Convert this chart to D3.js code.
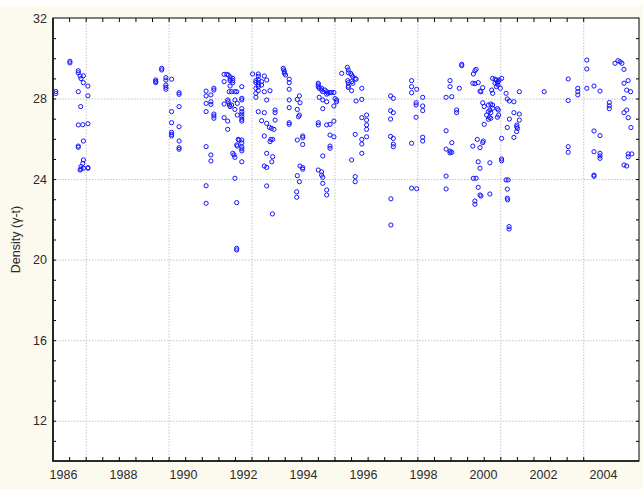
<!DOCTYPE html>
<html>
<head>
<meta charset="utf-8">
<script src="https://cdn.jsdelivr.net/npm/d3@7"></script>
<style>
    body { margin: 0; background: #fcf9ee; }
    svg { display: block; }
    .lbl text { font-family: "Liberation Sans", Arial, sans-serif; font-size: 12.5px; fill: #2a2a2a; }
    .grid line { stroke: #c4c4c4; stroke-dasharray: 1.5,1.5; }
    .minor line { stroke: #000; }
    .domain { display: none; }
</style>
</head>
<body>
<div id="chart"></div>
<script>
// sampling campaigns, [year, density]
var s1986 = [[1985.76,28.35],[1985.76,28.25],[1986.23,29.85],[1986.23,29.77],
    [1986.51,29.38],[1986.51,29.28],[1986.57,29.12],[1986.68,29.13],[1986.60,28.99],[1986.68,28.79],
    [1986.51,28.34],[1986.83,28.62],[1986.83,28.14],[1986.59,27.60],[1986.51,26.69],[1986.66,26.70],
    [1986.83,26.75],[1986.68,25.89],[1986.51,25.64],[1986.51,25.58],[1986.68,24.95],[1986.66,24.78],
    [1986.60,24.62],[1986.60,24.50],[1986.68,24.54],[1986.83,24.57],[1986.83,24.54],[1986.57,24.45]];

var s1989 = [[1989.09,28.92],[1989.09,28.85],[1989.09,28.79],[1989.29,29.50],[1989.29,29.42],
    [1989.43,29.04],[1989.43,28.92],[1989.43,28.67],[1989.43,28.56],[1989.43,28.46],[1989.62,28.96],
    [1989.87,28.29],[1989.87,28.21],[1989.87,27.60],[1989.62,27.35],[1989.62,26.80],[1989.62,26.32],
    [1989.62,26.22],[1989.62,26.14],[1989.87,26.60],[1989.87,25.89],[1989.87,25.56],[1989.87,25.48]];

var s1990 = [[1990.77,28.37],[1990.77,28.13],[1990.77,27.76],[1990.77,27.35],[1990.77,25.61],
    [1990.77,23.67],[1990.77,22.80],[1990.93,28.18],[1990.93,27.84],[1990.93,27.71],[1990.93,25.20],
    [1990.93,24.90],[1991.03,28.51],[1991.03,28.42],[1991.03,27.23],[1991.03,27.13],[1991.03,27.02]];

var s1991 = [[1991.37,29.20],[1991.37,28.84],[1991.37,27.73],[1991.37,27.05],[1991.46,29.20],
    [1991.51,29.17],[1991.49,27.93],[1991.51,27.84],[1991.49,26.88],[1991.49,26.47],[1991.57,29.08],
    [1991.57,28.97],[1991.57,28.89],[1991.54,28.34],[1991.62,28.34],[1991.57,28.62],[1991.66,29.00],
    [1991.66,28.89],[1991.66,28.79],[1991.55,27.68],[1991.57,27.60],[1991.62,27.68],[1991.73,28.34],
    [1991.79,28.34],[1991.73,27.93],[1991.73,27.46],[1991.81,27.76],[1991.66,25.28],[1991.70,25.20],
    [1991.73,25.08],[1991.81,27.18],[1991.81,25.64],[1991.84,25.97],[1991.73,24.04],[1991.96,28.59],
    [1991.96,28.01],[1991.96,27.93],[1991.96,27.50],[1991.96,27.35],[1991.96,27.23],[1991.96,27.10],
    [1991.96,26.97],[1991.96,26.88],[1991.87,25.94],[1991.96,25.94],[1991.96,25.80],[1991.96,25.60],
    [1991.96,25.50],[1991.96,25.40],[1991.79,25.70],[1991.96,24.86],[1991.79,22.83],[1991.79,20.56],
    [1991.79,20.48]];

var s1992 = [[1992.32,29.22],[1992.51,29.22],[1992.51,29.10],[1992.51,28.94],[1992.51,28.79],
    [1992.51,28.68],[1992.51,28.59],[1992.51,28.39],[1992.43,28.89],[1992.43,28.79],[1992.43,28.51],
    [1992.43,28.26],[1992.43,28.06],[1992.62,28.84],[1992.62,28.67],[1992.71,29.12],[1992.79,28.92],
    [1992.71,28.34],[1992.90,28.39],[1992.79,27.93],[1992.51,27.35],[1992.71,27.30],[1992.62,26.90],
    [1992.79,26.77],[1992.88,26.57],[1992.95,26.52],[1993.03,26.47],[1993.07,27.43],[1993.07,27.30],
    [1993.07,26.93],[1992.71,26.14],[1992.93,25.97],[1992.99,25.97],[1992.90,25.86],[1992.79,25.28],
    [1992.99,25.11],[1992.71,24.65],[1992.79,24.58],[1992.79,23.66],[1992.96,24.86],[1992.98,22.27]];

var s1993 = [[1993.34,29.50],[1993.36,29.42],[1993.38,29.33],[1993.38,29.25],[1993.42,29.17],
    [1993.54,28.96],[1993.54,28.79],[1993.54,28.46],[1993.54,27.93],[1993.54,27.55],[1993.54,26.80],
    [1993.54,26.72],[1993.88,28.13],[1993.81,27.96],[1993.90,27.79],[1993.81,27.46],[1993.88,27.18],
    [1993.85,27.10],[1993.81,25.94],[1993.99,26.14],[1993.99,26.06],[1993.99,25.72],[1993.90,24.65],
    [1993.99,24.57],[1993.99,24.49],[1993.81,24.17],[1993.88,23.87],[1993.79,23.37],[1993.79,23.10]];

var s1994 = [[1994.51,28.76],[1994.51,28.68],[1994.51,28.59],[1994.54,28.51],[1994.62,28.51],
    [1994.62,28.42],[1994.66,28.34],[1994.73,28.42],[1994.79,28.34],[1994.84,28.26],[1994.90,28.30],
    [1994.95,28.30],[1995.03,28.30],[1994.54,28.06],[1994.66,27.93],[1994.79,28.22],[1994.79,27.84],
    [1995.07,28.00],[1995.12,27.93],[1995.12,27.84],[1994.66,27.50],[1995.03,27.63],[1994.51,26.80],
    [1994.51,26.69],[1994.79,26.69],[1994.90,26.72],[1995.03,26.88],[1994.90,26.19],[1995.03,26.10],
    [1994.90,25.64],[1994.90,25.53],[1994.66,25.15],[1994.51,24.45],[1994.62,24.36],[1994.62,24.20],
    [1994.66,24.09],[1994.66,23.79],[1994.79,23.46],[1994.79,23.21]];

var s1995 = [[1995.29,29.25],[1995.48,29.55],[1995.51,29.42],[1995.51,29.28],[1995.59,29.25],
    [1995.62,29.17],[1995.66,29.08],[1995.74,29.00],[1995.77,28.96],[1995.49,28.89],[1995.51,28.79],
    [1995.51,28.62],[1995.62,28.84],[1995.66,28.76],[1995.51,28.55],[1995.62,28.39],[1995.77,27.88],
    [1995.96,28.51],[1995.96,27.96],[1995.74,26.22],[1995.62,24.95],[1995.96,27.05],[1995.96,25.97],
    [1995.96,25.74],[1996.12,27.18],[1996.12,26.93],[1996.12,26.69],[1996.12,26.47],[1996.12,26.10],
    [1995.96,25.28],[1995.74,24.12],[1995.74,23.87]];

var s1997 = [[1996.92,28.13],[1997.01,28.01],[1996.92,27.40],[1997.01,27.30],[1996.92,26.98],
    [1996.92,26.12],[1997.01,26.02],[1997.01,25.74],[1997.01,25.61],[1996.93,23.02],[1996.93,21.72],
    [1997.62,28.89],[1997.62,28.59],[1997.62,28.29],[1997.79,28.46],[1997.77,27.79],[1997.77,27.68],
    [1997.99,28.06],[1997.99,27.63],[1997.99,27.40],[1997.77,27.07],[1997.62,25.78],[1997.99,26.08],
    [1997.99,25.89],[1997.62,23.55],[1997.79,23.52]];

var s1998 = [[1998.77,28.06],[1998.77,26.40],[1998.77,25.49],[1998.77,24.15],[1998.77,23.51],
    [1998.90,28.89],[1998.90,28.59],[1998.96,28.09],[1998.96,25.81],[1998.90,25.39],[1998.90,25.30],
    [1998.96,25.33],[1999.12,27.43],[1999.12,27.30],[1999.21,28.51],[1999.29,29.70],[1999.29,29.63]];

var s2000 = [[1999.68,29.22],[1999.73,29.38],[1999.77,29.45],[1999.66,28.76],[1999.73,28.74],
    [1999.84,28.79],[1999.99,28.54],[1999.90,28.37],[1999.93,28.34],[2000.32,29.00],[2000.40,28.96],
    [2000.45,28.92],[2000.48,28.76],[2000.54,28.92],[2000.62,29.00],[2000.29,28.42],[2000.40,28.76],
    [2000.45,28.59],[2000.50,28.67],[2000.58,28.51],[2000.50,28.84],[2000.32,28.26],[2000.77,28.26],
    [2000.81,27.98],[2000.88,27.88],[2001.03,27.84],[2001.21,28.34],[1999.99,27.79],[2000.04,27.60],
    [2000.18,27.68],[2000.26,27.73],[2000.32,27.68],[2000.32,27.52],[2000.23,27.43],[2000.18,27.35],
    [2000.26,27.30],[2000.12,27.18],[2000.21,27.07],[2000.18,26.97],[2000.26,27.02],[2000.04,26.72],
    [2000.48,27.50],[2000.51,27.43],[2000.48,27.07],[2000.52,27.18],[2000.62,26.02],[2000.81,26.56],
    [2000.88,26.98],[2001.03,27.30],[2001.21,27.23],[2001.21,26.93],[2001.13,26.69],[2001.12,26.60],
    [2001.15,26.52],[2001.12,26.36],[2001.03,26.07],[1999.81,25.97],[2000.01,25.89],[1999.99,25.81],
    [1999.66,25.64],[1999.90,25.56],[1999.84,24.86],[1999.90,24.54],[2000.23,24.81],[1999.68,24.04],
    [1999.77,24.04],[1999.84,23.59],[1999.90,23.21],[1999.93,23.16],[2000.23,23.26],[2000.62,25.00],
    [2000.62,24.91],[2000.77,23.96],[2000.84,23.96],[2000.81,23.50],[2000.81,23.05],[2000.82,22.97],
    [1999.73,22.91],[1999.73,22.75],[2000.87,21.64],[2000.87,21.52]];

var s2003 = [[2002.04,28.34],[2002.84,28.97],[2002.84,27.90],[2002.84,25.61],[2002.84,25.33],
    [2003.16,28.51],[2003.16,28.34],[2003.16,28.18],[2003.46,29.91],[2003.46,29.47],[2003.46,28.51],
    [2003.70,28.62],[2003.90,28.37],[2004.21,27.80],[2004.21,27.64],[2004.21,27.50],[2003.70,26.39],
    [2003.90,26.16],[2003.70,25.36],[2003.90,25.28],[2003.90,25.15],[2003.90,25.03],[2003.70,24.20],
    [2003.70,24.14],[2004.40,29.75],[2004.50,29.88],[2004.57,29.83],[2004.63,29.75],[2004.70,29.45],
    [2004.70,28.76],[2004.84,28.89],[2004.79,28.42],[2004.92,28.34],[2004.70,28.01],[2004.70,27.30],
    [2004.79,27.43],[2004.84,27.05],[2004.93,26.56],[2004.84,25.25],[2004.84,25.11],[2004.96,25.25],
    [2004.70,24.70],[2004.79,24.65]];

var X_LABELS = [1986, 1988, 1990, 1992, 1994, 1996, 1998, 2000, 2002, 2004];
var Y_LABELS = [12, 16, 20, 24, 28, 32];
var X_DOMAIN = [1985.667, 2005.2],
    Y_DOMAIN = [10, 32];
var X_GRID_START = 1986.757, X_GRID_STEP = 2.764;   // x grid is not on the year labels
var Y_TITLE = "Density (\u03b3-t)";

var WIDTH = 643, HEIGHT = 489,
    LEFT = 53, TOP = 18, RIGHT = 639, BOTTOM = 461;

function draw(){
    /*
        plot frame, grid, inward minor ticks, then points
     */
    var points = [].concat(s1986, s1989, s1990, s1991, s1992, s1993, s1994, s1995, s1997, s1998, s2000, s2003);

    var x = d3.scaleLinear().domain( X_DOMAIN).range( [LEFT, RIGHT]);
    var y = d3.scaleLinear().domain( Y_DOMAIN).range( [BOTTOM, TOP]);

    var xGrid = d3.range( -2, 7).map( function(k){ return X_GRID_START + k * X_GRID_STEP; });
    var xMinor = d3.range( -2, 31).map( function(k){ return X_GRID_START + k * X_GRID_STEP / 5; })
        .filter( function(v){ return v > X_DOMAIN[0] + 0.05 && v < X_DOMAIN[1] - 0.05; });
    var yMinor = d3.range( 11, 32);

    var svg = d3.select( "#chart").append( "svg")
        .attr( "width", WIDTH)
        .attr( "height", HEIGHT);

    svg.append( "rect").attr( "width", WIDTH).attr( "height", HEIGHT).attr( "fill", "#fcf9ee");
    svg.append( "rect").attr( "width", WIDTH).attr( "height", 6).attr( "fill", "#ffffff");
    svg.append( "rect")
        .attr( "x", LEFT).attr( "y", TOP)
        .attr( "width", RIGHT - LEFT).attr( "height", BOTTOM - TOP)
        .attr( "fill", "#ffffff");

    // grid
    svg.append( "g").attr( "class", "grid")
        .attr( "transform", "translate(0," + BOTTOM + ")")
        .call( d3.axisBottom( x).tickValues( xGrid.filter( function(v){ return v > X_DOMAIN[0] && v < X_DOMAIN[1]; }))
            .tickSize( -(BOTTOM - TOP)).tickFormat( ""));
    svg.append( "g").attr( "class", "grid")
        .attr( "transform", "translate(" + LEFT + ",0)")
        .call( d3.axisLeft( y).tickValues( Y_LABELS.slice( 0, -1)).tickSize( -(RIGHT - LEFT)).tickFormat( ""));

    // minor ticks on all four sides, pointing in
    svg.append( "g").attr( "class", "minor")
        .attr( "transform", "translate(0," + BOTTOM + ")")
        .call( d3.axisBottom( x).tickValues( xMinor).tickSize( -4).tickFormat( ""));
    svg.append( "g").attr( "class", "minor")
        .attr( "transform", "translate(0," + TOP + ")")
        .call( d3.axisTop( x).tickValues( xMinor).tickSize( -4).tickFormat( ""));
    svg.append( "g").attr( "class", "minor")
        .attr( "transform", "translate(" + LEFT + ",0)")
        .call( d3.axisLeft( y).tickValues( yMinor).tickSize( -3).tickFormat( ""));
    svg.append( "g").attr( "class", "minor")
        .attr( "transform", "translate(" + RIGHT + ",0)")
        .call( d3.axisRight( y).tickValues( yMinor).tickSize( -3).tickFormat( ""));

    // labels
    svg.append( "g").attr( "class", "lbl")
        .attr( "transform", "translate(0," + BOTTOM + ")")
        .call( d3.axisBottom( x).tickValues( X_LABELS).tickSize( 0).tickPadding( 9).tickFormat( d3.format( "d")))
        .selectAll( "line").remove();
    svg.append( "g").attr( "class", "lbl")
        .attr( "transform", "translate(" + LEFT + ",0)")
        .call( d3.axisLeft( y).tickValues( Y_LABELS).tickSize( 0).tickPadding( 6))
        .selectAll( "line").remove();

    svg.append( "text")
        .attr( "transform", "translate(20," + ((TOP + BOTTOM) / 2) + ")rotate(-90)")
        .attr( "text-anchor", "middle")
        .style( "font-family", "Liberation Sans, Arial, sans-serif")
        .style( "font-size", "12.5px")
        .style( "fill", "#2a2a2a")
        .text( Y_TITLE);

    // frame
    svg.append( "rect")
        .attr( "x", LEFT).attr( "y", TOP)
        .attr( "width", RIGHT - LEFT).attr( "height", BOTTOM - TOP)
        .attr( "fill", "none").attr( "stroke", "#000").attr( "stroke-width", 1);
    svg.append( "path")
        .attr( "d", "M" + LEFT + "," + TOP + "V" + BOTTOM + "H" + RIGHT)
        .attr( "fill", "none").attr( "stroke", "#111").attr( "stroke-width", 1.6);

    svg.append( "g").selectAll( "circle")
        .data( points).enter()
        .append( "circle")
        .attr( "cx", function(d){ return x( d[0]); })
        .attr( "cy", function(d){ return y( d[1]); })
        .attr( "r", 2.1)
        .attr( "fill", "none")
        .attr( "stroke", "#1414ff")
        .attr( "stroke-width", 1);
}

draw();
</script>
</body>
</html>
